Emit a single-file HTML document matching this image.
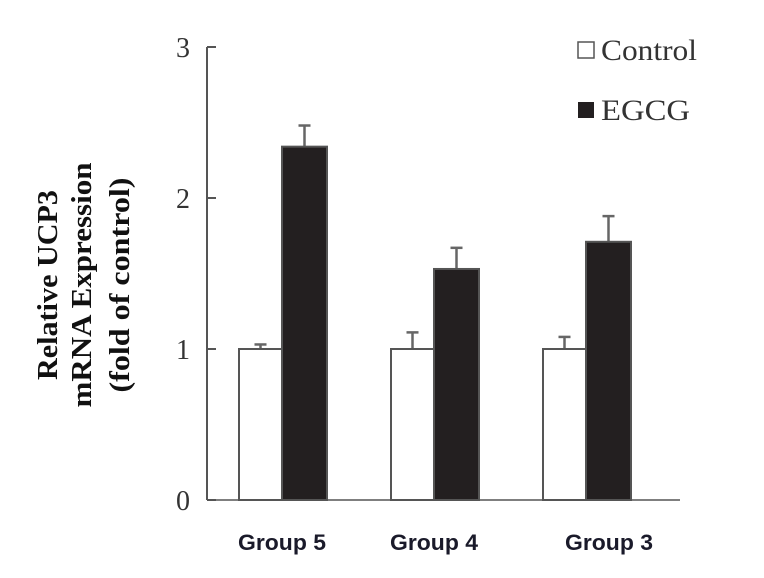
<!DOCTYPE html>
<html><head><meta charset="utf-8"><style>
body{margin:0;background:#fff;}
svg{display:block;}
</style></head><body>
<svg width="764" height="578" viewBox="0 0 764 578" id="chart">
<g id="plot"></g>
</svg>
<script>
const categories=["Group 5","Group 4","Group 3"];
const controlValues=[1.0,1.0,1.0];
const controlErrors=[0.03,0.11,0.08];
const egcgValues=[2.34,1.53,1.71];
const egcgErrors=[0.14,0.14,0.17];
const yTicks=[0,1,2,3];

const NS="http://www.w3.org/2000/svg";
const g=document.getElementById('plot');
const x0=207,yBase=500,yTop=47,yMax=3;
const y=v=>yBase-(yBase-yTop)*v/yMax;
const groupStart=i=>239+i*152;
const barW=43;
const labelShift=[0,0,23];
function el(tag,attrs,text){const e=document.createElementNS(NS,tag);for(const k in attrs)e.setAttribute(k,attrs[k]);if(text!==undefined)e.textContent=text;g.appendChild(e);return e;}

let ax=el('line',{x1:x0,y1:yTop,x2:x0,y2:yBase,stroke:'#555','stroke-width':2});


yTicks.forEach(t=>{
  let tk=el('line',{x1:x0,y1:y(t),x2:x0+9,y2:y(t),stroke:'#555','stroke-width':2});
  
  
  let lb=el('text',{x:183,y:y(t)+10,'text-anchor':'middle','font-family':'Liberation Serif, serif','font-size':28,fill:'#333'},String(t));
  
  
});
let xa=el('line',{x1:x0,y1:yBase,x2:680,y2:yBase,stroke:'#555','stroke-width':1.5});



function errBar(cx,v,e){
  let l=el('line',{x1:cx,y1:y(v),x2:cx,y2:y(v+e),stroke:'#666','stroke-width':2.5});
  
  
  let c=el('line',{x1:cx-6,y1:y(v+e),x2:cx+6,y2:y(v+e),stroke:'#666','stroke-width':2.5});
  
  
}
categories.forEach((c,i)=>{
  const xs=groupStart(i);
  errBar(xs+barW/2,controlValues[i],controlErrors[i]);
  errBar(xs+barW+barW/2+1,egcgValues[i],egcgErrors[i]);
  let b1=el('rect',{x:xs,y:y(controlValues[i]),width:barW,height:yBase-y(controlValues[i]),fill:'#fff',stroke:'#555','stroke-width':2});
  
  
  let b2=el('rect',{x:xs+barW,y:y(egcgValues[i]),width:barW+2,height:yBase-y(egcgValues[i]),fill:'#231f20',stroke:'#555','stroke-width':2});
  
  
  let t=el('text',{x:xs+barW+labelShift[i],y:550,'text-anchor':'middle','font-family':'Liberation Sans, sans-serif','font-size':22,'font-weight':'bold',fill:'#1a1a2a',textLength:88,lengthAdjust:'spacingAndGlyphs'},c);
  
  
});

let s1=el('rect',{x:578,y:42,width:16,height:16,fill:'#fff',stroke:'#555','stroke-width':1.5});


let t1=el('text',{x:601,y:60,'font-family':'Liberation Serif, serif','font-size':30,fill:'#333',textLength:96,lengthAdjust:'spacingAndGlyphs'},'Control');


let s2=el('rect',{x:578,y:102,width:16,height:16,fill:'#231f20'});


let t2=el('text',{x:601,y:120,'font-family':'Liberation Serif, serif','font-size':30,fill:'#333',textLength:89,lengthAdjust:'spacingAndGlyphs'},'EGCG');



const lines=["Relative UCP3","mRNA Expression","(fold of control)"];
const lx=[57,91,129];
const lens=[190,245,215];
lines.forEach((s,i)=>{
  const xx=lx[i];
  let t=el('text',{x:xx,y:285,'text-anchor':'middle','font-family':'Liberation Serif, serif','font-size':29,'font-weight':'bold',fill:'#111',textLength:lens[i],lengthAdjust:'spacingAndGlyphs',transform:`rotate(-90 ${xx} 285)`},s);
  
  
});
</script>
</body></html>
